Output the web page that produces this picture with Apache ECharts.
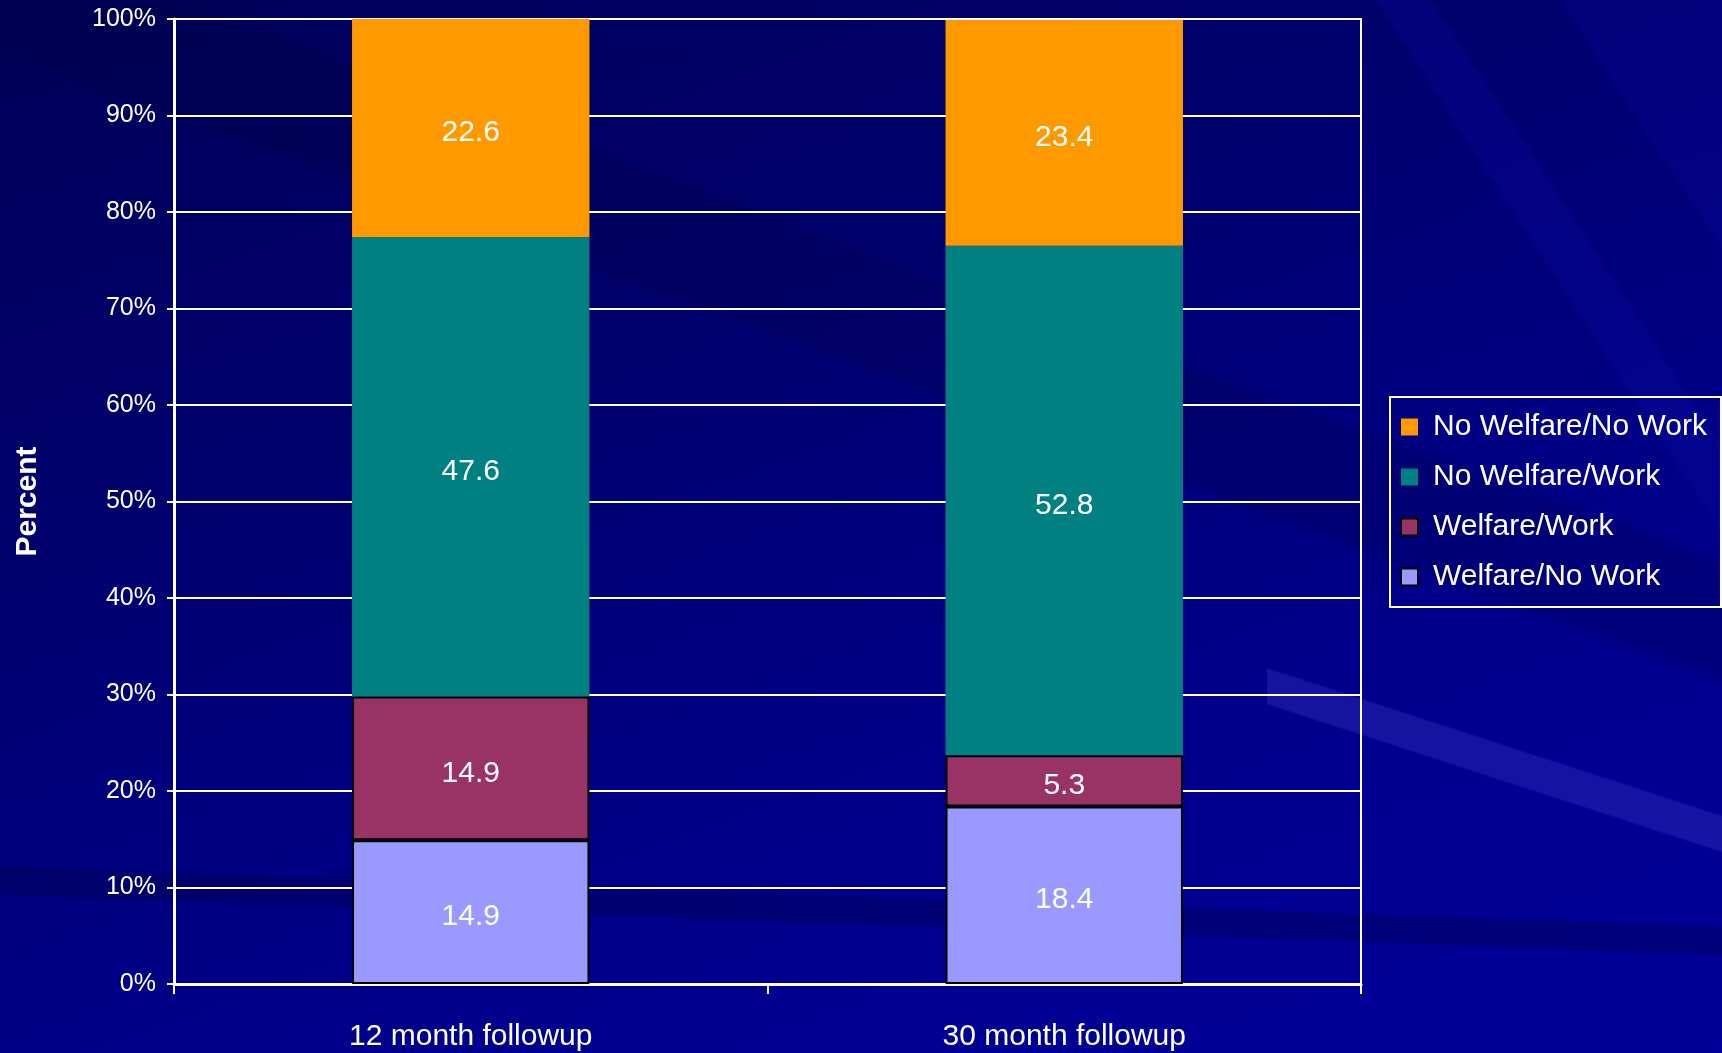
<!DOCTYPE html>
<html>
<head>
<meta charset="utf-8">
<script src="https://cdn.jsdelivr.net/npm/echarts@6/dist/echarts.min.js"></script>
<style>
  html, body { margin: 0; padding: 0; width: 1722px; height: 1053px; overflow: hidden; }
  body {
    background:
      /* pale streak across the lower right */
      linear-gradient(198deg, rgba(0,0,0,0) 0%, rgba(0,0,0,0) 48%, rgba(45,45,185,0.45) 48.5%, rgba(45,45,185,0.45) 56%, rgba(0,0,0,0) 56.5%) 1267px 600px / 455px 300px no-repeat,
      /* steep light bands in the upper right */
      linear-gradient(57deg, rgba(0,0,0,0) 0%, rgba(0,0,0,0) 66%, rgba(10,10,160,0.3) 66.5%, rgba(10,10,160,0.3) 71.5%, rgba(0,0,0,0) 72%, rgba(0,0,0,0) 84%, rgba(10,10,160,0.25) 84.5%, rgba(10,10,160,0.25) 100%) 1150px 0 / 572px 700px no-repeat,
      /* shallow dark bands */
      linear-gradient(200deg, rgba(0,0,0,0) 0%, rgba(0,0,0,0) 33%, rgba(0,0,60,0.22) 34%, rgba(0,0,60,0.22) 40%, rgba(0,0,0,0) 41%),
      linear-gradient(182deg, rgba(0,0,0,0) 0%, rgba(0,0,0,0) 83%, rgba(0,0,70,0.35) 83.5%, rgba(0,0,70,0.35) 85.5%, rgba(0,0,0,0) 86%),
      linear-gradient(160deg, #000058 0%, #00006c 32%, #000084 60%, #000094 82%, #000098 100%);
  }
  #chart { width: 1722px; height: 1053px; }
</style>
</head>
<body>
<div id="chart"></div>
<script>
// Employment / welfare status at each followup wave (percent of sample)
const categories = ['12 month followup', '30 month followup'];
const welfareNoWork   = [14.9, 18.4];
const welfareWork     = [14.9, 5.3];
const noWelfareWork   = [47.6, 52.8];
const noWelfareNoWork = [22.6, 23.4];
const yTicks = { min: 0, max: 100, interval: 10 };

const FONT = '"Liberation Sans", Arial, sans-serif';

const label = {
  show: true,
  position: 'inside',
  offset: [0, 5],
  color: '#ffffff',
  fontFamily: FONT,
  fontSize: 30
};

function barSeries(name, data, color, border) {
  return {
    name: name,
    type: 'bar',
    stack: 'total',
    barWidth: '40%',
    data: data,
    label: label,
    itemStyle: border
      ? { color: color, borderColor: '#000000', borderWidth: 2 }
      : { color: color, borderWidth: 0 },
    emphasis: { disabled: true }
  };
}

const chart = echarts.init(document.getElementById('chart'), null, { renderer: 'canvas' });
chart.setOption({
  backgroundColor: 'transparent',
  animation: false,
  grid: {
    left: 174, right: 361, top: 19, bottom: 69,
    show: true, borderColor: '#ffffff', borderWidth: 2, backgroundColor: 'transparent'
  },
  legend: {
    orient: 'vertical',
    left: 1390, top: 397,
    padding: [15, 14, 15, 10],
    backgroundColor: 'transparent',
    borderColor: '#ffffff',
    borderWidth: 2,
    itemWidth: 17, itemHeight: 17,
    itemGap: 20,
    icon: 'rect',
    data: ['No Welfare/No Work', 'No Welfare/Work', 'Welfare/Work', 'Welfare/No Work'],
    textStyle: { color: '#ffffff', fontFamily: FONT, fontSize: 30, padding: [0, 0, 0, 10] }
  },
  xAxis: {
    type: 'category',
    data: categories,
    axisLine: { show: true, lineStyle: { color: '#ffffff', width: 3 } },
    axisTick: { show: true, alignWithLabel: false, length: 10, lineStyle: { color: '#ffffff', width: 2 } },
    axisLabel: { color: '#ffffff', fontFamily: FONT, fontSize: 30, margin: 38 },
    splitLine: { show: false }
  },
  yAxis: {
    type: 'value',
    min: yTicks.min, max: yTicks.max, interval: yTicks.interval,
    name: 'Percent',
    nameLocation: 'middle',
    nameRotate: 90,
    nameGap: 131,
    nameTextStyle: { color: '#ffffff', fontFamily: FONT, fontSize: 30, fontWeight: 'bold' },
    axisLine: { show: true, lineStyle: { color: '#ffffff', width: 3 } },
    axisTick: { show: true, length: 7, lineStyle: { color: '#ffffff', width: 2 } },
    axisLabel: { color: '#ffffff', fontFamily: FONT, fontSize: 25, margin: 18, formatter: '{value}%' },
    splitLine: { show: true, lineStyle: { color: '#ffffff', width: 2 } }
  },
  series: [
    barSeries('Welfare/No Work', welfareNoWork, '#9999FF', true),
    barSeries('Welfare/Work', welfareWork, '#993366', true),
    barSeries('No Welfare/Work', noWelfareWork, '#008080', false),
    barSeries('No Welfare/No Work', noWelfareNoWork, '#FF9900', false)
  ]
});
</script>
</body>
</html>
